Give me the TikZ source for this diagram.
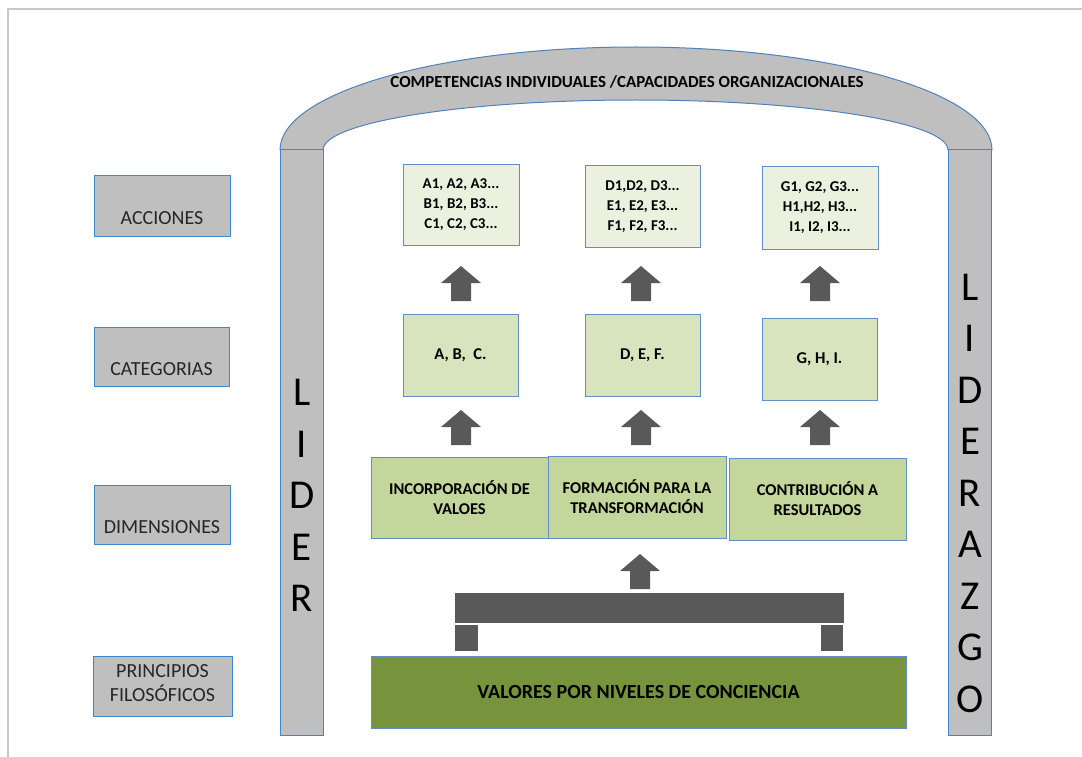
\documentclass[tikz,border=0pt]{standalone}
\usepackage{fontspec}
\setmainfont{Carlito}
\definecolor{pgray}{RGB}{191,191,191}
\definecolor{agray}{RGB}{89,89,89}
\definecolor{framegray}{RGB}{200,200,200}
\definecolor{lblue}{RGB}{58,136,212}
\definecolor{bblue}{RGB}{100,140,200}
\definecolor{archblue}{RGB}{79,129,189}
\definecolor{actfill}{RGB}{235,241,222}
\definecolor{catfill}{RGB}{215,228,189}
\definecolor{dimfill}{RGB}{195,214,155}
\definecolor{valfill}{RGB}{119,147,60}
\tikzset{
  lbox/.style={draw=lblue, line width=1pt, fill=pgray, inner sep=0pt},
  ltext/.style={font=\fontsize{20}{24}\selectfont, text=black!85, align=center, inner sep=0pt},
  pillar/.style={draw=lblue, line width=1pt, fill=pgray, inner sep=0pt, minimum width=43pt, minimum height=585pt},
  pletter/.style={font=\fontsize{41}{51.5}\selectfont, align=center, inner sep=0pt},
  actbox/.style={draw=bblue, line width=1pt, fill=actfill, inner sep=0pt, align=center,
    font=\bfseries\fontsize{15}{20}\selectfont},
  catbox/.style={draw=bblue, line width=1pt, fill=catfill, inner sep=0pt, align=center,
    font=\bfseries\fontsize{16.5}{20}\selectfont},
  dimbox/.style={draw=bblue, line width=1pt, fill=dimfill, inner sep=0pt, align=center,
    font=\bfseries\fontsize{16.5}{20}\selectfont, minimum height=81pt},
  valbox/.style={draw=bblue, line width=1pt, fill=valfill, inner sep=0pt, align=center,
    font=\bfseries\fontsize{20}{24}\selectfont},
  darkblock/.style={fill=agray, draw=none, inner sep=0pt},
  uparrow/.pic={\fill[agray] (-10,0) -- (-10,-18) -- (-20,-18) -- (0,-35) -- (20,-18) -- (10,-18) -- (10,0) -- cycle;}
}
\begin{document}
\begin{tikzpicture}[x=1pt,y=-1pt]
\useasboundingbox (0,0) rectangle (1082,757);
% outer frame
\draw[framegray, line width=1.5pt] (8,757) -- (8,9) -- (1082,9);

% arch
\draw[archblue, line width=1pt, fill=pgray]
  (280,150) arc[start angle=180, end angle=360, x radius=356, y radius=103]
  -- (948,150) arc[start angle=360, end angle=180, x radius=312.5, y radius=50] -- cycle;
\node[font=\bfseries\fontsize{16.9}{20}\selectfont, inner sep=0pt] (arch) at (627,82)
  {COMPETENCIAS INDIVIDUALES /CAPACIDADES ORGANIZACIONALES};

% pillars
\node[pillar] (lpil) at (301.5,442.5) {};
\node[pillar] (rpil) at (970,442.5) {};
\node[pletter] (lider) at (302,495.5) {L\\I\\D\\E\\R};
\node[pletter] (liderazgo) at (970,493) {L\\I\\D\\E\\R\\A\\Z\\G\\O};

% left labels
\node[lbox, minimum width=136pt, minimum height=60pt] (acc) at (162,206) {};
\node[ltext] (acct) at (162,218) {ACCIONES};
\node[lbox, minimum width=135pt, minimum height=59pt] (cat) at (161.5,356.5) {};
\node[ltext] (catt) at (161.5,369) {CATEGORIAS};
\node[lbox, minimum width=136pt, minimum height=59pt] (dim) at (162,514.5) {};
\node[ltext] (dimt) at (162,527) {DIMENSIONES};
\node[lbox, minimum width=139pt, minimum height=60pt] (pri) at (162.5,686) {};
\node[ltext] (prit) at (162.5,683) {PRINCIPIOS\\FILOSÓFICOS};

% action boxes
\node[actbox, minimum width=116pt, minimum height=80pt] (a1) at (461,205) {A1, A2, A3...\\B1, B2, B3...\\C1, C2, C3...};
\node[actbox, minimum width=115pt, minimum height=81pt] (a2) at (642.5,206.5) {D1,D2, D3...\\E1, E2, E3...\\F1, F2, F3...};
\node[actbox, minimum width=116pt, minimum height=82pt] (a3) at (820,208) {G1, G2, G3...\\H1,H2, H3...\\I1, I2, I3...};

% category boxes
\node[catbox, minimum width=115pt, minimum height=82pt] (c1) at (460.5,355) {A, B,\ \ C.};
\node[catbox, minimum width=115pt, minimum height=82pt] (c2) at (642.5,355) {D, E, F.};
\node[catbox, minimum width=115pt, minimum height=82pt] (c3) at (819.5,359) {G, H, I.};

% dimension boxes
\node[dimbox, minimum width=177pt] (d1) at (459.5,498) {INCORPORACIÓN DE\\VALOES};
\node[dimbox, minimum width=178pt, minimum height=82pt] (d2) at (637,497) {FORMACIÓN PARA LA\\TRANSFORMACIÓN};
\node[dimbox, minimum width=177pt, minimum height=82pt] (d3) at (817.5,499) {CONTRIBUCIÓN A\\RESULTADOS};

% base
\node[valbox, minimum width=535pt, minimum height=72pt] (val) at (638.5,692) {VALORES POR NIVELES DE CONCIENCIA};
\node[darkblock, minimum width=389pt, minimum height=30pt] (bar) at (649,608) {};
\node[darkblock, minimum width=23pt, minimum height=26pt] (legl) at (466.5,638) {};
\node[darkblock, minimum width=22pt, minimum height=26pt] (legr) at (832,638) {};

% block arrows
\pic (ua1) at (461,301) {uparrow};
\pic (ua2) at (641,301) {uparrow};
\pic (ua3) at (820,301) {uparrow};
\pic (ub1) at (461,445) {uparrow};
\pic (ub2) at (641,445) {uparrow};
\pic (ub3) at (820,445) {uparrow};
\pic (uc) at (640,589) {uparrow};
\end{tikzpicture}
\end{document}
